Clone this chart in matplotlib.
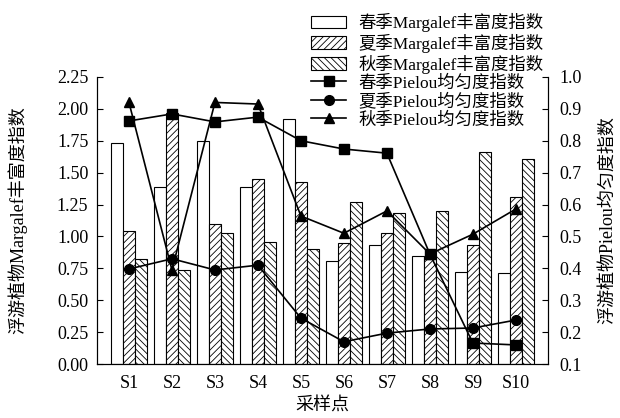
import numpy as np
import matplotlib.pyplot as plt

plt.rcParams['font.family'] = ['Liberation Serif', 'Noto Sans CJK SC']
plt.rcParams['hatch.linewidth'] = 0.6

sites = ['S1', 'S2', 'S3', 'S4', 'S5', 'S6', 'S7', 'S8', 'S9', 'S10']

# Margalef richness (left axis)
margalef_spring = [1.73, 1.39, 1.75, 1.39, 1.92, 0.81, 0.93, 0.85, 0.72, 0.71]
margalef_summer = [1.04, 1.97, 1.10, 1.45, 1.43, 0.95, 1.03, 0.85, 0.93, 1.31]
margalef_autumn = [0.82, 0.74, 1.03, 0.96, 0.90, 1.27, 1.18, 1.20, 1.66, 1.61]

# Pielou evenness (right axis)
pielou_spring = [0.862, 0.884, 0.859, 0.874, 0.800, 0.774, 0.761, 0.445, 0.166, 0.160]
pielou_summer = [0.398, 0.430, 0.395, 0.410, 0.244, 0.170, 0.197, 0.210, 0.213, 0.238]
pielou_autumn = [0.920, 0.395, 0.920, 0.915, 0.564, 0.510, 0.580, 0.445, 0.507, 0.586]

x = np.arange(1, len(sites) + 1)
w = 0.28

fig = plt.figure(figsize=(6.2, 4.18), dpi=100)
ax = fig.add_axes([0.156, 0.129, 0.728, 0.687])

b1 = ax.bar(x - w, margalef_spring, w, color='white', edgecolor='black', linewidth=0.8,
            label='春季Margalef丰富度指数')
b2 = ax.bar(x, margalef_summer, w, color='white', edgecolor='black', linewidth=0.8,
            hatch='/////', label='夏季Margalef丰富度指数')
b3 = ax.bar(x + w, margalef_autumn, w, color='white', edgecolor='black', linewidth=0.8,
            hatch='\\\\\\\\\\', label='秋季Margalef丰富度指数')

ax.set_xlim(0.25, 10.75)
ax.set_ylim(0, 2.25)
ax.set_yticks(np.arange(0, 2.26, 0.25))
ax.set_yticklabels(['%.2f' % v for v in np.arange(0, 2.26, 0.25)])
ax.set_xticks(x)
ax.set_xticklabels(sites)
ax.tick_params(axis='y', direction='in', length=4, labelsize=13, pad=6)
ax.tick_params(axis='x', length=0, labelsize=13, pad=8)
ax.spines['top'].set_visible(False)
ax.set_ylabel('浮游植物Margalef丰富度指数', fontsize=13)
ax.yaxis.set_label_coords(-0.153, 0.5)
ax.set_xlabel('采样点', fontsize=13)

ax2 = ax.twinx()
l1, = ax2.plot(x, pielou_spring, color='black', marker='s', markersize=6.5, linewidth=1.2,
               label='春季Pielou均匀度指数')
l2, = ax2.plot(x, pielou_summer, color='black', marker='o', markersize=7, linewidth=1.2,
               label='夏季Pielou均匀度指数')
l3, = ax2.plot(x, pielou_autumn, color='black', marker='^', markersize=7, linewidth=1.2,
               label='秋季Pielou均匀度指数')
ax2.set_ylim(0.1, 1.0)
ax2.set_yticks(np.arange(0.1, 1.01, 0.1))
ax2.set_yticklabels(['%.1f' % v for v in np.arange(0.1, 1.01, 0.1)])
ax2.tick_params(axis='y', direction='in', length=4, labelsize=13, pad=8)
ax2.spines['top'].set_visible(False)
ax2.set_ylabel('浮游植物Pielou均匀度指数', fontsize=13)
ax2.yaxis.set_label_coords(1.115, 0.5)

ax2.legend([b1, b2, b3, l1, l2, l3],
           [h.get_label() for h in [b1, b2, b3, l1, l2, l3]],
           loc='upper left', bbox_to_anchor=(0.488, 0.99), bbox_transform=fig.transFigure,
           frameon=False, fontsize=12.5, labelspacing=0.1, handlelength=2.0,
           handleheight=0.75, handletextpad=0.7, borderpad=0)

fig.savefig('out.png', dpi=100)
